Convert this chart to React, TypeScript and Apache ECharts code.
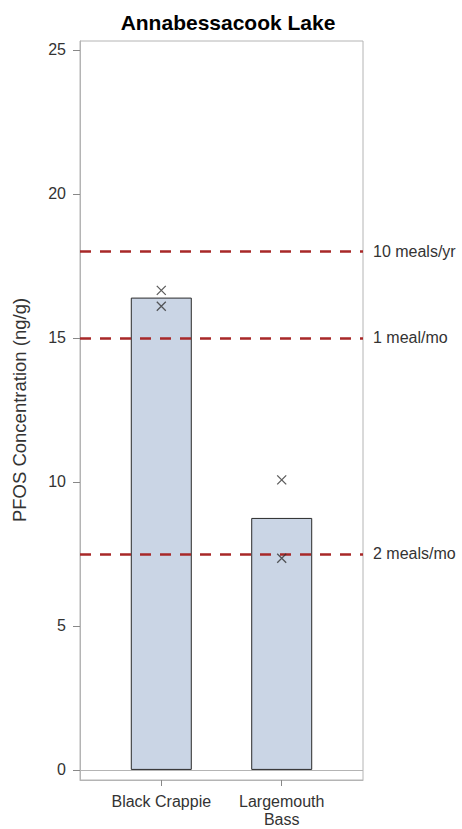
import React, { useEffect, useRef } from "react";
import * as echarts from "echarts";

const title = "Annabessacook Lake";
const yAxisName = "PFOS Concentration (ng/g)";
const categories = ["Black Crappie", "Largemouth\nBass"];
const meanValues = [16.4, 8.75];
const blackCrappieSamples = [16.65, 16.1];
const largemouthSamples = [10.07, 7.35];
const refValues = [18, 15, 7.5];
const refLabels = ["10 meals/yr", "1 meal/mo", "2 meals/mo"];
const yTicks = [0, 5, 10, 15, 20, 25];
const xTicks = [0, 1];

const FONT = "'Liberation Sans', Arial, sans-serif";

export default function App() {
  const ref = useRef<HTMLDivElement>(null);
  useEffect(() => {
    if (!ref.current) return;
    const chart = echarts.init(ref.current, null, { renderer: "svg" });
    const sampleData: number[][] = [];
    blackCrappieSamples.forEach((v) => sampleData.push([0, v]));
    largemouthSamples.forEach((v) => sampleData.push([1, v]));
    const option: any = {
      animation: false,
      backgroundColor: "#ffffff",
      textStyle: { fontFamily: FONT },
      title: {
        text: title,
        left: 223,
        textAlign: "center",
        top: 7,
        textStyle: { fontFamily: FONT, fontSize: 21, fontWeight: "bold", color: "#000" },
      },
      grid: {
        left: 80,
        top: 41,
        width: 283,
        height: 739,
        show: true,
        borderColor: "#b4b4b4",
        borderWidth: 1,
        containLabel: false,
      },
      xAxis: {
        type: "value",
        min: -0.675,
        max: 1.675,
        splitLine: { show: false },
        axisLine: { show: true, onZero: false, lineStyle: { color: "#b4b4b4" } },
        axisTick: {
          show: true,
          customValues: xTicks,
          length: 6,
          lineStyle: { color: "#888" },
        },
        axisLabel: {
          customValues: xTicks,
          formatter: (v: number) => categories[Math.round(v)] ?? "",
          fontFamily: FONT,
          fontSize: 16,
          color: "#333",
          lineHeight: 18,
          margin: 12,
        },
      },
      yAxis: {
        type: "value",
        min: -0.35,
        max: 25.31,
        splitLine: { show: false },
        axisLine: { show: true, onZero: false, lineStyle: { color: "#b4b4b4" } },
        axisTick: {
          show: true,
          customValues: yTicks,
          length: 7,
          lineStyle: { color: "#888" },
        },
        axisLabel: {
          customValues: yTicks,
          fontFamily: FONT,
          fontSize: 16,
          color: "#333",
          margin: 14,
        },
      },
      graphic: [
        {
          type: "text",
          x: 19,
          y: 410,
          rotation: Math.PI / 2,
          style: {
            text: yAxisName,
            fontFamily: FONT,
            fontSize: 18.5,
            fill: "#333",
            align: "center",
            verticalAlign: "middle",
          },
        },
      ],
      series: [
        {
          type: "bar",
          data: meanValues.map((v, i) => [i, v]),
          barWidth: 61,
          itemStyle: { color: "#cad5e5", borderColor: "#2a2a2a", borderWidth: 1 },
          z: 2,
          markLine: {
            silent: true,
            symbol: "none",
            data: [{ yAxis: 0 }],
            lineStyle: { color: "#b4b4b4", type: "solid", width: 1 },
            label: { show: false },
            z: 1,
          },
        },
        {
          type: "scatter",
          data: sampleData,
          symbol: "path://M0 0L10 10M10 0L0 10",
          symbolSize: 9,
          itemStyle: { color: "rgba(0,0,0,0)", borderColor: "#333", borderWidth: 1.3 },
          z: 4,
        },
        {
          type: "line",
          data: [],
          markLine: {
            silent: true,
            symbol: "none",
            data: refValues.map((v, i) => ({ yAxis: v, name: refLabels[i] })),
            lineStyle: { color: "#a82828", type: [11, 9], width: 2.6 },
            label: {
              show: true,
              position: "end",
              formatter: (p: any) => p.name,
              fontFamily: FONT,
              fontSize: 16,
              color: "#333",
              distance: 10,
            },
            z: 3,
          },
        },
      ],
    };
    chart.setOption(option);
    return () => chart.dispose();
  }, []);
  return (
    <div
      ref={ref}
      style={{ position: "fixed", left: 0, top: 0, width: 462, height: 829 }}
    />
  );
}
